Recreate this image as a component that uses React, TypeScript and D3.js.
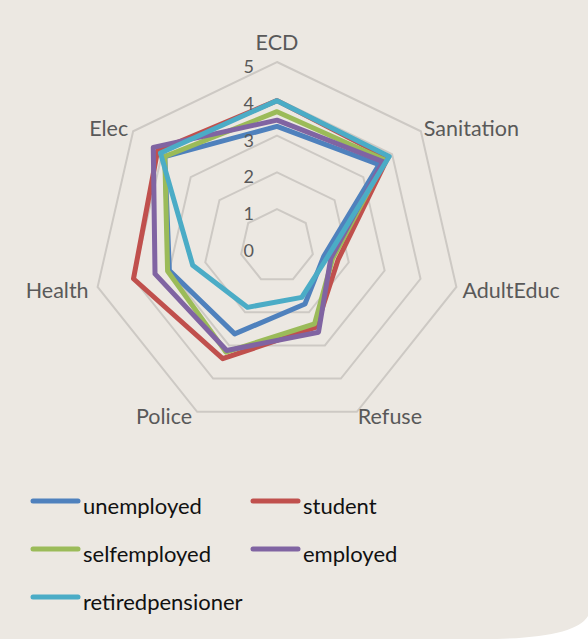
import React from "react";
import * as d3 from "d3";

const categories = ["ECD", "Sanitation", "AdultEduc", "Refuse", "Police", "Health", "Elec"];
const seriesNames = ["unemployed", "student", "selfemployed", "employed", "retiredpensioner"];
const unemployed = [3.25, 3.55, 1.3, 1.75, 2.65, 3.0, 3.9];
const student = [3.95, 3.85, 1.7, 2.45, 3.4, 4.0, 4.15];
const selfemployed = [3.65, 3.75, 1.55, 2.35, 3.2, 3.05, 3.9];
const employed = [3.42, 3.68, 1.5, 2.6, 3.15, 3.4, 4.3];
const retiredpensioner = [3.95, 3.9, 1.4, 1.55, 1.85, 2.35, 4.05];
const tickValues = [0, 1, 2, 3, 4, 5];
const colors = ["#4F81BD", "#C0504D", "#9BBB59", "#8064A2", "#4BACC6"];

const W = 588;
const H = 639;
const cx = 277;
const cy = 246;
const R = 184;

export default function App() {
  const data = [unemployed, student, selfemployed, employed, retiredpensioner];
  const n = categories.length;
  const r = d3.scaleLinear().domain([0, 5]).range([0, R]);
  const angle = (i: number) => (i * 2 * Math.PI) / n;
  const line = d3
    .lineRadial<number>()
    .angle((_, i) => angle(i))
    .radius((d) => r(d))
    .curve(d3.curveLinearClosed);
  const pt = (i: number, v: number) => {
    const a = angle(i);
    return [Math.sin(a) * r(v), -Math.cos(a) * r(v)];
  };
  const font = "Lato, 'Open Sans', sans-serif";
  const legendCols = [31, 251];
  const legendRows = [501, 549, 597];

  return (
    <div style={{ position: "fixed", left: 0, top: 0 }}>
      <svg width={W} height={H} style={{ display: "block" }}>
        <rect x={0} y={0} width={W} height={H} fill="#ECE8E2" />
        <path d={`M ${W} 616 Q ${W - 12} 637 497 ${H} L ${W} ${H} Z`} fill="#ffffff" />
        <g transform={`translate(${cx},${cy})`}>
          {tickValues.slice(1).map((t) => (
            <path
              key={t}
              d={line(categories.map(() => t)) || ""}
              fill="none"
              stroke="#CDC9C4"
              strokeWidth={2}
            />
          ))}
          {data.map((s, k) => (
            <path
              key={k}
              d={line(s) || ""}
              fill="none"
              stroke={colors[k]}
              strokeWidth={5}
              strokeLinejoin="round"
            />
          ))}
          {tickValues.map((t) => (
            <text
              key={t}
              x={-23}
              y={-r(t) + 11}
              textAnchor="end"
              fontFamily={font}
              fontSize={18}
              fill="#595959"
            >
              {t}
            </text>
          ))}
          {categories.map((c, i) => {
            const [x, y] = pt(i, 5);
            let anchor = "middle";
            let dx = 0;
            let dy = 0;
            if (Math.abs(x) < 1) {
              dy = -12;
            } else {
              const right = x > 0;
              anchor = right ? "start" : "end";
              if (y < 0) {
                dx = right ? 3 : -5;
                dy = 5;
              } else if (y > 100) {
                dx = right ? 1 : -5;
                dy = 12;
              } else {
                dx = right ? 6 : -9;
                dy = 11;
              }
            }
            return (
              <text
                key={c}
                x={x + dx}
                y={y + dy}
                textAnchor={anchor}
                fontFamily={font}
                fontSize={21.5}
                fill="#595959"
              >
                {c}
              </text>
            );
          })}
        </g>
        {seriesNames.map((name, k) => {
          const x = legendCols[k % 2];
          const y = legendRows[Math.floor(k / 2)];
          return (
            <g key={name}>
              <line
                x1={x + 2}
                x2={x + 47}
                y1={y}
                y2={y}
                stroke={colors[k]}
                strokeWidth={5}
                strokeLinecap="round"
              />
              <text x={x + 52} y={y + 13} fontFamily={font} fontSize={22} fill="#111">
                {name}
              </text>
            </g>
          );
        })}
      </svg>
    </div>
  );
}
